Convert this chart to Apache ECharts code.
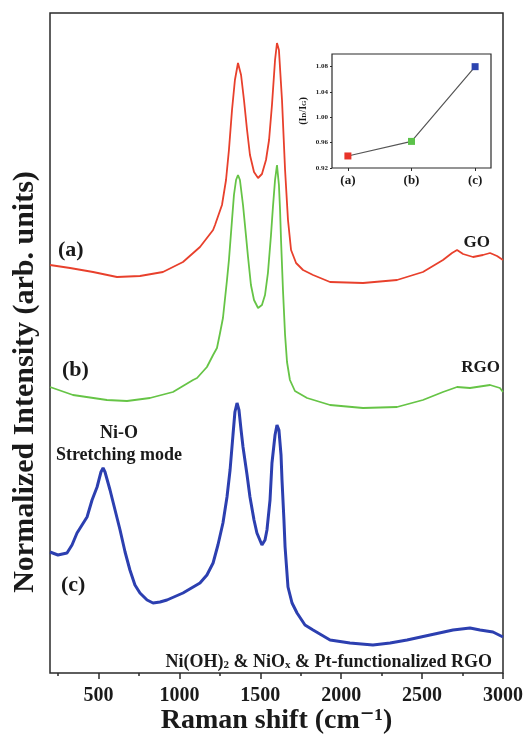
<!DOCTYPE html>
<html>
<head>
<meta charset="utf-8">
<script src="https://cdn.jsdelivr.net/npm/echarts@6/dist/echarts.min.js"></script>
<style>
  html, body { margin: 0; padding: 0; background: #fff; }
  #chart { width: 525px; height: 734px; }
</style>
</head>
<body>
<div id="chart"></div>
<script>
// Raman spectra: [shift cm^-1, intensity (arb., offset included)]
var ramanGO = [[200,408],[324,405],[466,401],[614,396],[756,397],[898,401],[1022,411],[1127,426],[1208,443],[1220,448],[1263,468],[1288,493],[1306,523],[1325,563],[1343,593],[1362,610],[1381,598],[1399,573],[1418,543],[1436,518],[1461,501],[1486,495],[1510,499],[1535,513],[1554,533],[1572,568],[1591,613],[1603,630],[1615,623],[1634,573],[1653,503],[1671,453],[1690,423],[1721,410],[1764,403],[1826,398],[1931,391],[2135,390],[2345,393],[2505,401],[2629,413],[2685,420],[2716,423],[2753,419],[2815,416],[2876,418],[2920,420],[2963,417],[3000,413]];
var ramanRGO = [[200,286],[342,278],[552,273],[676,272],[818,275],[960,281],[1084,293],[1109,295],[1170,306],[1208,318],[1232,325],[1251,340],[1269,355],[1294,393],[1306,413],[1325,453],[1337,478],[1350,493],[1362,498],[1374,493],[1393,468],[1411,438],[1424,416],[1442,388],[1461,373],[1486,365],[1510,368],[1529,378],[1547,400],[1566,438],[1578,466],[1591,493],[1603,508],[1615,488],[1622,463],[1628,433],[1640,383],[1653,338],[1665,311],[1683,293],[1714,282],[1789,275],[1931,268],[2135,265],[2345,266],[2505,273],[2629,281],[2716,286],[2796,285],[2920,288],[2981,285],[3000,281]];
var ramanNi = [[200,121],[249,118],[305,120],[336,128],[367,140],[398,148],[429,156],[460,173],[491,186],[515,201],[528,205],[540,201],[571,183],[602,163],[633,143],[664,121],[694,103],[725,88],[756,80],[800,73],[837,70],[880,71],[923,73],[1022,80],[1127,90],[1170,98],[1208,110],[1238,128],[1269,150],[1294,176],[1313,203],[1331,238],[1343,261],[1356,270],[1368,263],[1381,243],[1393,226],[1418,198],[1436,176],[1461,153],[1479,140],[1510,128],[1529,133],[1541,143],[1560,173],[1572,210],[1591,238],[1603,248],[1615,243],[1628,218],[1634,193],[1646,153],[1653,126],[1671,86],[1696,70],[1727,60],[1776,48],[1826,43],[1931,33],[2054,30],[2196,28],[2302,30],[2407,33],[2549,38],[2691,43],[2796,45],[2858,43],[2938,41],[3000,36]];

var majorTicks = [500, 1000, 1500, 2000, 2500, 3000];
var minorTicks = [250, 750, 1250, 1750, 2250, 2750];

// inset: I_D / I_G ratio
var insetCats = ['(a)', '(b)', '(c)'];
var insetRatio = [0.939, 0.962, 1.08];
var insetColors = ['#e8342a', '#5cc24a', '#2c44b0'];
var insetTicks = [0.92, 0.96, 1.00, 1.04, 1.08];

var serif = '"Liberation Serif", "DejaVu Serif", serif';
var ink = '#1a1a1a';

var chart = echarts.init(document.getElementById('chart'));

function txt (text, x, y, size, align) {
  return {
    type: 'text', x: x, y: y,
    style: { text: text, fill: ink, font: 'bold ' + size + 'px ' + serif, align: align || 'left', verticalAlign: 'middle' }
  };
}

chart.setOption({
  animation: false,
  backgroundColor: '#fff',
  grid: [
    { left: 50, right: 22, top: 13, bottom: 61, show: true, borderColor: '#2a2a2a', borderWidth: 1.5, outerBoundsMode: 'none', containLabel: false },
    { left: 332, top: 54, width: 159, height: 114, show: true, borderColor: '#2a2a2a', borderWidth: 1.2, backgroundColor: '#fff', outerBoundsMode: 'none', containLabel: false }
  ],
  xAxis: [
    {
      gridIndex: 0, type: 'value', min: 200, max: 3000, position: 'bottom',
      axisLine: { show: false, onZero: false },
      splitLine: { show: false },
      axisTick: { customValues: majorTicks, length: 6, lineStyle: { color: '#2a2a2a', width: 1.5 } },
      axisLabel: {
        customValues: majorTicks, margin: 13, color: ink, fontFamily: serif, fontWeight: 'bold', fontSize: 20,
        formatter: function (v) { return String(v) }
      },
      name: 'Raman shift (cm\u207B\u00B9)', nameLocation: 'middle', nameGap: 34, nameMoveOverlap: false,
      nameTextStyle: { color: ink, fontFamily: serif, fontWeight: 'bold', fontSize: 28 }
    },
    {
      gridIndex: 0, type: 'value', min: 200, max: 3000, position: 'bottom',
      axisLine: { show: false, onZero: false },
      splitLine: { show: false },
      axisTick: { customValues: minorTicks, length: 3, lineStyle: { color: '#2a2a2a', width: 1.5 } },
      axisLabel: { show: false }
    },
    {
      gridIndex: 1, type: 'value', min: -0.25, max: 2.25,
      axisLine: { show: false, onZero: false },
      splitLine: { show: false },
      axisTick: { customValues: [0, 1, 2], length: 3, lineStyle: { color: '#2a2a2a' } },
      axisLabel: {
        customValues: [0, 1, 2], margin: 6, color: ink, fontFamily: serif, fontWeight: 'bold', fontSize: 13,
        formatter: function (v) { return insetCats[Math.round(v)] }
      }
    }
  ],
  yAxis: [
    {
      gridIndex: 0, type: 'value', min: 0, max: 660,
      axisLine: { show: false, onZero: false }, axisTick: { show: false }, axisLabel: { show: false }, splitLine: { show: false }
    },
    {
      gridIndex: 1, type: 'value', min: 0.92, max: 1.10,
      axisLine: { show: false, onZero: false }, splitLine: { show: false },
      axisTick: { customValues: insetTicks, length: 2, lineStyle: { color: '#2a2a2a' } },
      axisLabel: {
        customValues: insetTicks, margin: 4, color: ink, fontFamily: serif, fontWeight: 'bold', fontSize: 7,
        formatter: function (v) { return v.toFixed(2) }
      },
      name: '(I{s|D}/I{s|G})', nameLocation: 'middle', nameGap: 24,
      nameTextStyle: {
        color: ink, fontFamily: serif, fontWeight: 'bold', fontSize: 10,
        rich: { s: { fontFamily: serif, fontWeight: 'bold', fontSize: 7, verticalAlign: 'bottom', color: ink } }
      }
    }
  ],
  series: [
    { name: 'GO', type: 'line', xAxisIndex: 0, yAxisIndex: 0, data: ramanGO, showSymbol: false, lineStyle: { color: '#e8402c', width: 1.8 } },
    { name: 'RGO', type: 'line', xAxisIndex: 0, yAxisIndex: 0, data: ramanRGO, showSymbol: false, lineStyle: { color: '#66c446', width: 1.8 } },
    { name: 'Ni', type: 'line', xAxisIndex: 0, yAxisIndex: 0, data: ramanNi, showSymbol: false, lineStyle: { color: '#2c3fb0', width: 3 } },
    {
      name: 'ratio', type: 'line', xAxisIndex: 2, yAxisIndex: 1,
      data: insetRatio.map(function (v, i) { return { value: [i, v], itemStyle: { color: insetColors[i] } } }),
      symbol: 'rect', symbolSize: 7, lineStyle: { color: '#555', width: 1.2 }
    }
  ],
  graphic: [
    {
      type: 'text', x: 25, y: 382, rotation: Math.PI / 2,
      style: { text: 'Normalized Intensity (arb. units)', fill: ink, font: 'bold 30px ' + serif, align: 'center', verticalAlign: 'middle' }
    },
    txt('(a)', 58, 250, 22),
    txt('(b)', 62, 370, 22),
    txt('(c)', 61, 585, 22),
    txt('GO', 490, 243, 17, 'right'),
    txt('RGO', 500, 368, 17, 'right'),
    txt('Ni-O', 119, 433, 18, 'center'),
    txt('Stretching mode', 119, 455, 18, 'center'),
    {
      type: 'text', x: 492, y: 662,
      style: {
        text: 'Ni(OH){s|2} & NiO{s|x} & Pt-functionalized RGO', fill: ink, font: 'bold 18px ' + serif,
        align: 'right', verticalAlign: 'middle',
        rich: { s: { font: 'bold 11px ' + serif, verticalAlign: 'bottom', fill: ink } }
      }
    }
  ]
})
</script>
</body>
</html>
